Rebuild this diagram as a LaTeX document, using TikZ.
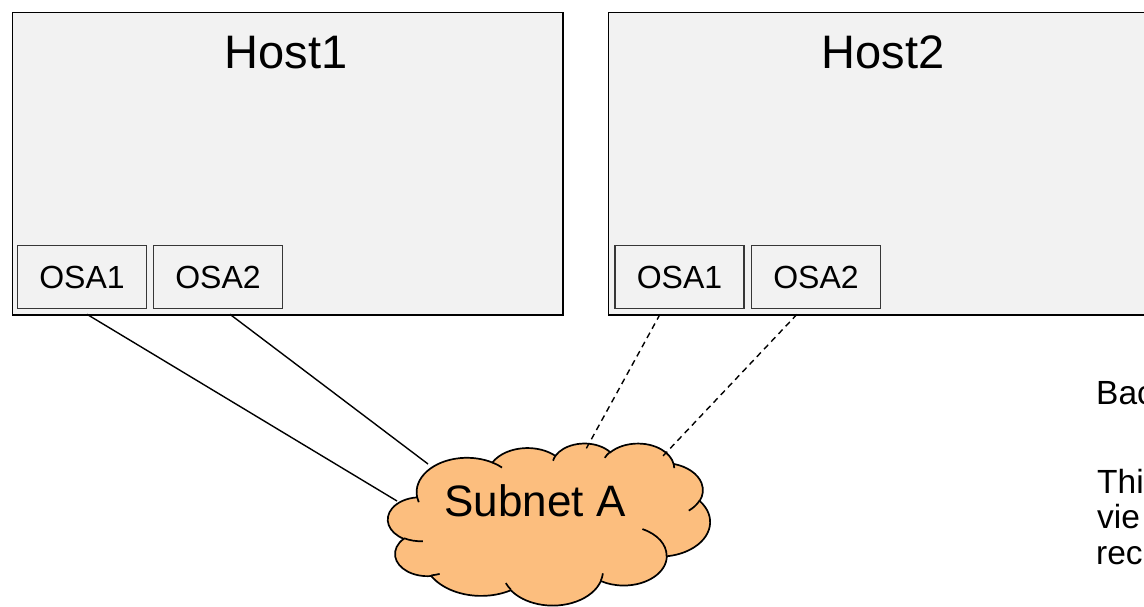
\documentclass[tikz,border=0pt]{standalone}
\usepackage{fontspec}
\setmainfont{Liberation Sans}
\usetikzlibrary{calc}

\definecolor{hostgray}{RGB}{242,242,242}
\definecolor{osaline}{RGB}{55,55,55}
\definecolor{cloudfill}{RGB}{252,190,126}

% Convert a DrawingML arc (visual start angle, sweep) into parametric
% start/end angles for a TikZ elliptical arc; stores \cld<name>s / \cld<name>e.
\newcommand\cldang[5]{%
  \pgfmathsetmacro\cldtmpa{atan2((#2)*sin(#4),(#3)*cos(#4))}%
  \pgfmathsetmacro\cldtmpb{atan2((#2)*sin((#4)+(#5)),(#3)*cos((#4)+(#5)))}%
  \pgfmathsetmacro\cldtmpb{(\cldtmpa)+mod((\cldtmpb)-(\cldtmpa)+720,360)}%
  \expandafter\let\csname cld#1s\endcsname\cldtmpa
  \expandafter\let\csname cld#1e\endcsname\cldtmpb
}

\tikzset{
  hostbox/.style={draw=black, line width=1.4pt, fill=hostgray, inner sep=0pt,
    anchor=north west},
  osabox/.style={draw=osaline, line width=1.6pt, fill=hostgray, inner sep=0pt,
    minimum width=129pt, minimum height=63pt, font=\fontsize{32}{38}\selectfont},
  hosttitle/.style={inner sep=0pt, anchor=base, font=\fontsize{47}{56}\selectfont},
  notetext/.style={inner sep=0pt, anchor=base west, font=\fontsize{33.5}{38}\selectfont},
  cloudline/.style={draw=black, line width=1.7pt},
  link/.style={draw=black, line width=1.4pt},
  weaklink/.style={link, dash pattern=on 6pt off 4.5pt},
}

\begin{document}
\begin{tikzpicture}[x=1pt, y=1pt, yscale=-1]
\useasboundingbox (0,0) rectangle (1144,606);

% host frames
\node[hostbox, minimum width=550.6pt, minimum height=302.6pt] (host1) at (11.7,11.7) {};
\node[hostbox, minimum width=550.6pt, minimum height=302.6pt] (host2) at (607.7,11.7) {};
\node[hosttitle] (host1title) at (286,68) {Host1};
\node[hosttitle] (host2title) at (883,68) {Host2};

% adapters
\node[osabox] (h1osa1) at (82,277) {OSA1};
\node[osabox] (h1osa2) at (218,277) {OSA2};
\node[osabox] (h2osa1) at (679.5,277) {OSA1};
\node[osabox] (h2osa2) at (816,277) {OSA2};

% cloud outline arcs
\cldang{A}{67.53}{91.90}{-190.48748}{123.78053}
\cldang{B}{53.33}{72.67}{-144.10238}{89.94523}
\cldang{C}{43.65}{59.45}{-145.80792}{99.72302}
\cldang{D}{48.57}{65.95}{-130.98607}{117.24173}
\cldang{E}{53.33}{72.73}{-78.70888}{109.02692}
\cldang{F}{67.75}{92.20}{-46.26725}{130.269}
\cldang{G}{57.85}{78.67}{0.62502}{114.03333}
\cldang{H}{67.52}{92.15}{22.4516}{115.17255}
\cldang{I}{77.20}{105.43}{66.24263}{75.71102}
\cldang{J}{43.60}{59.18}{-274.94208}{146.73557}
\cldang{K}{43.45}{59.45}{-246.8285}{152.51885}
% inner puff arcs
\cldang{a}{43.45}{59.45}{86.742}{26.4295}
\cldang{b}{43.60}{59.18}{73.61047}{11.44747}
\cldang{c}{67.52}{92.15}{137.62415}{14.0811}
\cldang{d}{67.52}{92.15}{6.45327}{15.99835}
\cldang{e}{57.85}{78.67}{-70.29235}{70.91737}
\cldang{f}{53.33}{72.73}{30.31803}{27.7515}
\cldang{g}{48.57}{65.95}{-13.74433}{14.8589}
\cldang{h}{48.57}{65.95}{-149.18145}{18.19537}
\cldang{i}{43.65}{59.45}{-163.49427}{17.68635}
\cldang{j}{67.53}{91.90}{-66.70695}{12.31935}
\cldang{k}{67.53}{91.90}{157.65435}{11.85817}

\begin{scope}[shift={(388,443)}, xscale=0.74537, yscale=0.375]
  \path[cloudline, fill=cloudfill] (39.00,143.70)
    arc[start angle=\cldAs, end angle=\cldAe, x radius=67.53, y radius=91.90]
    arc[start angle=\cldBs, end angle=\cldBe, x radius=53.33, y radius=72.67]
    arc[start angle=\cldCs, end angle=\cldCe, x radius=43.65, y radius=59.45]
    arc[start angle=\cldDs, end angle=\cldDe, x radius=48.57, y radius=65.95]
    arc[start angle=\cldEs, end angle=\cldEe, x radius=53.33, y radius=72.73]
    arc[start angle=\cldFs, end angle=\cldFe, x radius=67.75, y radius=92.20]
    arc[start angle=\cldGs, end angle=\cldGe, x radius=57.85, y radius=78.67]
    arc[start angle=\cldHs, end angle=\cldHe, x radius=67.52, y radius=92.15]
    arc[start angle=\cldIs, end angle=\cldIe, x radius=77.20, y radius=105.43]
    arc[start angle=\cldJs, end angle=\cldJe, x radius=43.60, y radius=59.18]
    arc[start angle=\cldKs, end angle=\cldKe, x radius=43.45, y radius=59.45]
    -- cycle;
  \draw[cloudline]
    (46.93,261.77) arc[start angle=\cldas, end angle=\cldae, x radius=43.45, y radius=59.45]
    (69.28,348.99) arc[start angle=\cldbs, end angle=\cldbe, x radius=43.60, y radius=59.18]
    (164.78,390.90) arc[start angle=\cldcs, end angle=\cldce, x radius=67.52, y radius=92.15]
    (288.27,347.51) arc[start angle=\cldds, end angle=\cldde, x radius=67.52, y radius=92.15]
    (341.29,229.54) arc[start angle=\cldes, end angle=\cldee, x radius=57.85, y radius=78.67]
    (417.98,153.54) arc[start angle=\cldfs, end angle=\cldfe, x radius=53.33, y radius=72.73]
    (383.24,54.26) arc[start angle=\cldgs, end angle=\cldge, x radius=48.57, y radius=65.95]
    (290.78,39.52) arc[start angle=\cldhs, end angle=\cldhe, x radius=48.57, y radius=65.95]
    (221.41,47.20) arc[start angle=\cldis, end angle=\cldie, x radius=43.65, y radius=59.45]
    (140.00,51.92) arc[start angle=\cldjs, end angle=\cldje, x radius=67.53, y radius=91.90]
    (41.27,157.89) arc[start angle=\cldks, end angle=\cldke, x radius=67.53, y radius=91.90];
\end{scope}
\node[inner sep=0pt, font=\fontsize{44}{52}\selectfont] (subnet) at (535,501) {Subnet A};

% attachment points on the cloud rim
\coordinate (rim1) at (397,501);
\coordinate (rim2) at (428,464);
\coordinate (rim3) at (586,449);
\coordinate (rim4) at (663,456);

% links
\draw[link] ($(h1osa1.south)+(5,5)$) -- (rim1);
\draw[link] ($(h1osa2.south)+(12,5)$) -- (rim2);
\draw[weaklink] ($(h2osa1.south)+(-19.5,5)$) -- (rim3);
\draw[weaklink] ($(h2osa2.south)+(-19,5)$) -- (rim4);

% side notes
\node[notetext] (note1) at (1096,404) {Bac};
\node[notetext] (note2) at (1097,493) {Thi};
\node[notetext] (note3) at (1097,528.5) {vie};
\node[notetext] (note4) at (1096,564) {rec};
\end{tikzpicture}
\end{document}
